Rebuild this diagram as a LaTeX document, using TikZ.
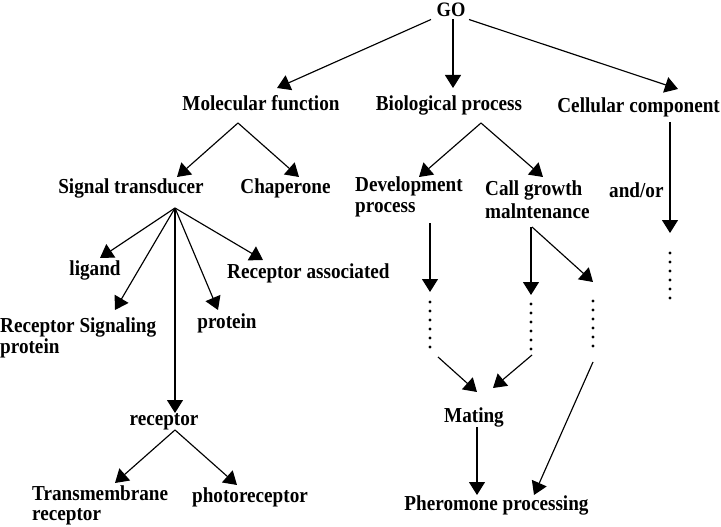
\documentclass[tikz,border=0pt]{standalone}
\usepackage{fontspec}
\setmainfont{Liberation Serif}[FakeStretch=0.9]
\usetikzlibrary{arrows.meta}
\begin{document}
\begin{tikzpicture}[x=1pt,y=-1pt,
  lbl/.style={inner sep=0pt, font=\fontsize{21.3}{21}\selectfont\bfseries},
  arr/.style={line width=1.15pt, -{Triangle[length=13pt,width=16pt]}},
  dotmark/.style={fill=black}
  ]
\useasboundingbox (0,0) rectangle (721,527);
% nodes
\node[lbl, anchor=base, font=\fontsize{20.5}{21}\selectfont\bfseries] (GO) at (451,16.5) {GO};
\node[lbl, anchor=base] (MF) at (261,110.5) {Molecular function};
\node[lbl, anchor=base] (BP) at (449,110.5) {Biological process};
\node[lbl, anchor=base east] (CC) at (720,113) {Cellular component};
\node[lbl, anchor=base] (ST) at (131,193) {Signal transducer};
\node[lbl, anchor=base] (CH) at (285.5,193) {Chaperone};
\node[lbl, anchor=base west] (DP) at (355,191.5) {\begin{tabular}[t]{@{}l@{}}Development\\process\end{tabular}};
\node[lbl, anchor=base west, font=\fontsize{21.3}{23}\selectfont\bfseries] (CG) at (485,195.5) {\begin{tabular}[t]{@{}l@{}}Call growth\\malntenance\end{tabular}};
\node[lbl, anchor=base west] (AO) at (609,197) {and/or};
\node[lbl, anchor=base] (LG) at (95,275) {ligand};
\node[lbl, anchor=base west] (RA) at (227,278) {Receptor associated};
\node[lbl, anchor=base west] (RS) at (0,332) {\begin{tabular}[t]{@{}l@{}}Receptor Signaling\\protein\end{tabular}};
\node[lbl, anchor=base] (PR) at (227,328) {protein};
\node[lbl, anchor=base] (RC) at (164,425) {receptor};
\node[lbl, anchor=base west, font=\fontsize{21.3}{20}\selectfont\bfseries] (TM) at (32,500) {\begin{tabular}[t]{@{}l@{}}Transmembrane\\receptor\end{tabular}};
\node[lbl, anchor=base] (PH) at (250,502) {photoreceptor};
\node[lbl, anchor=base] (MT) at (474,422) {Mating};
\node[lbl, anchor=base] (PP) at (496.5,510) {Pheromone processing};
% dotted columns (top dots)
\coordinate (D1) at (430,302);
\coordinate (D2) at (531,304);
\coordinate (D3) at (593,301);
\coordinate (DC) at (670,253);
\foreach \c in {D1,D2,D3,DC}{
  \foreach \i in {0,...,5}{
    \fill[dotmark] ([shift={(0,9*\i)}]\c) circle[radius=1.7pt];
  }
}
% GO level
\draw[arr] ([shift={(-20,3)}]GO.base) -- ([shift={(16,-22.5)}]MF.base);
\draw[arr] ([shift={(2,3)}]GO.base) -- ([shift={(4,-22.5)}]BP.base);
\draw[arr] ([shift={(18,3)}]GO.base) -- ([shift={(-42,-24)}]CC.base east);
% Molecular function
\draw[arr] ([shift={(-23,12.5)}]MF.base) -- ([shift={(46,-16)}]ST.base);
\draw[arr] ([shift={(-23,12.5)}]MF.base) -- ([shift={(13.5,-16)}]CH.base);
% Biological process
\draw[arr] ([shift={(32,12.5)}]BP.base) -- ([shift={(64,-14.5)}]DP.base west);
\draw[arr] ([shift={(32,12.5)}]BP.base) -- ([shift={(58,-18.5)}]CG.base west);
% Cellular component
\draw[arr] ([shift={(-50,9)}]CC.base east) -- ([shift={(0,-20)}]DC);
% Signal transducer fan
\draw[arr] ([shift={(44,15)}]ST.base) -- ([shift={(5,-17)}]LG.base);
\draw[arr] ([shift={(44,15)}]ST.base) -- ([shift={(115,-22)}]RS.base west);
\draw[arr] ([shift={(44,15)}]ST.base) -- ([shift={(11,-12)}]RC.base);
\draw[arr] ([shift={(44,15)}]ST.base) -- ([shift={(-9,-18)}]PR.base);
\draw[arr] ([shift={(44,15)}]ST.base) -- ([shift={(36,-18)}]RA.base west);
% receptor
\draw[arr] ([shift={(11,5)}]RC.base) -- ([shift={(83,-17)}]TM.base west);
\draw[arr] ([shift={(11,5)}]RC.base) -- ([shift={(-13,-17)}]PH.base);
% development / growth
\draw[arr] ([shift={(75,31.5)}]DP.base west) -- ([shift={(0,-10)}]D1);
\draw[arr] ([shift={(46,31.5)}]CG.base west) -- ([shift={(0,-9)}]D2);
\draw[arr] ([shift={(47,31.5)}]CG.base west) -- ([shift={(0,-19)}]D3);
% to Mating and Pheromone
\draw[arr] ([shift={(8,55)}]D1) -- ([shift={(3,-30)}]MT.base);
\draw[arr] ([shift={(1,51)}]D2) -- ([shift={(19,-34)}]MT.base);
\draw[arr] ([shift={(0,61)}]D3) -- ([shift={(37.5,-15)}]PP.base);
\draw[arr] ([shift={(3,5)}]MT.base) -- ([shift={(-19.5,-15)}]PP.base);
\end{tikzpicture}
\end{document}
